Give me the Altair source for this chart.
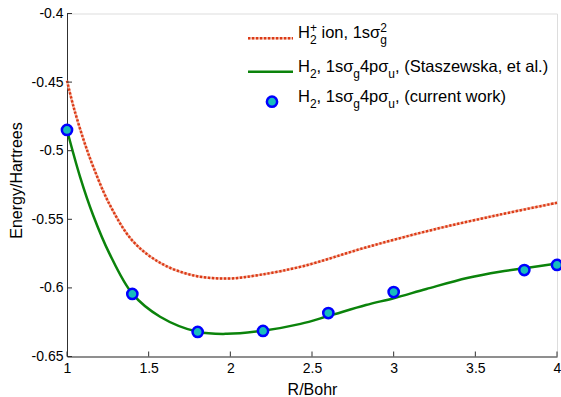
import altair as alt
import pandas as pd

# H2+ ground state (1s sigma_g) potential curve, hartree vs bohr
ion_r = [1.0, 1.04, 1.1, 1.16, 1.26, 1.4, 1.57, 1.77, 1.98, 2.18, 2.45, 2.83, 3.24, 3.65, 4.0]
ion_e = [-0.449, -0.468, -0.4915, -0.5115, -0.539, -0.5655, -0.5817, -0.5908, -0.5932,
         -0.5905, -0.584, -0.5705, -0.5576, -0.5466, -0.538]

# H2 1s sigma_g 4p sigma_u state, Staszewska et al.
ref_r = [1.0, 1.08, 1.16, 1.26, 1.4, 1.57, 1.8, 1.98, 2.2, 2.43, 2.6, 2.83, 3.0, 3.2,
         3.45, 3.65, 3.8, 4.0]
ref_e = [-0.4849, -0.519, -0.547, -0.575, -0.6042, -0.621, -0.632, -0.6335, -0.6312,
         -0.6262, -0.6205, -0.6125, -0.6075, -0.6008, -0.5928, -0.5882, -0.5857, -0.5822]

# H2 1s sigma_g 4p sigma_u state, present calculation
calc_r = [1.0, 1.4, 1.8, 2.2, 2.6, 3.0, 3.8, 4.0]
calc_e = [-0.4849, -0.6044, -0.6321, -0.6314, -0.6183, -0.6030, -0.5870, -0.5833]

x_ticks = [1, 1.5, 2, 2.5, 3, 3.5, 4]
y_ticks = [-0.65, -0.6, -0.55, -0.5, -0.45, -0.4]

# legend rows: ("n", text) normal run, ("ss", subscript, superscript) stacked scripts
legend_rows = [
    [("n", "H"), ("ss", "2", "+"), ("n", " ion, 1sσ"), ("ss", "g", "2")],
    [("n", "H"), ("ss", "2", ""), ("n", ", 1sσ"), ("ss", "g", ""), ("n", "4pσ"),
     ("ss", "u", ""), ("n", ", (Staszewska, et al.)")],
    [("n", "H"), ("ss", "2", ""), ("n", ", 1sσ"), ("ss", "g", ""), ("n", "4pσ"),
     ("ss", "u", ""), ("n", ", (current work)")],
]

FONT = "Liberation Sans"
W, H = 490, 343
RED, GREEN = "#dc3a16", "#0b830b"
FILL, EDGE = "#17bdbd", "#0000ff"
AXIS = "#303030"

xs = alt.Scale(domain=[1, 4], nice=False, zero=False)
ys = alt.Scale(domain=[-0.65, -0.4], nice=False, zero=False)

ion = pd.DataFrame({"r": ion_r, "e": ion_e})
ref = pd.DataFrame({"r": ref_r, "e": ref_e})
calc = pd.DataFrame({"r": calc_r, "e": calc_e})

x_axis = alt.Axis(values=x_ticks, ticks=False, grid=False, domainColor=AXIS,
                  labelExpr="format(datum.value, '~g')", labelFont=FONT,
                  labelFontSize=14, labelColor="black", labelPadding=5,
                  labelFlush=False, labelOverlap=False,
                  title="R/Bohr", titleFont=FONT, titleFontSize=16,
                  titleFontWeight="normal", titleColor="black",
                  titleX=W / 2, titleY=37.5, titleBaseline="alphabetic")
y_axis = alt.Axis(values=y_ticks, ticks=False, grid=False, domainColor=AXIS,
                  labelExpr="(datum.value < 0 ? '-' : '') + format(abs(datum.value), '.2~f')",
                  labelFont=FONT, labelFontSize=14, labelColor="black", labelPadding=4,
                  labelFlush=False, labelOverlap=False,
                  title="Energy/Hartrees", titleFont=FONT, titleFontSize=16,
                  titleFontWeight="normal", titleColor="black",
                  titleX=-45.5, titleY=166.5, titleBaseline="alphabetic")

X = alt.X("r:Q", scale=xs, axis=x_axis)
Y = alt.Y("e:Q", scale=ys, axis=y_axis)

ion_halo = alt.Chart(ion).mark_line(color="#f3b9a8", strokeWidth=2.5,
                                    interpolate="catmull-rom").encode(x=X, y=Y)
ion_line = alt.Chart(ion).mark_line(color=RED, strokeWidth=2.5, strokeDash=[2.2, 1.8],
                                    interpolate="catmull-rom").encode(x=X, y=Y)
ref_line = alt.Chart(ref).mark_line(color=GREEN, strokeWidth=2.5,
                                    interpolate="catmull-rom").encode(x=X, y=Y)
calc_pts = alt.Chart(calc).mark_point(shape="circle", filled=True, fill=FILL, stroke=EDGE,
                                      strokeWidth=2.5, size=105, opacity=1,
                                      clip=False).encode(x=X, y=Y)

# inward tick marks on the two axes
x_tick_marks = alt.Chart(pd.DataFrame({"r": x_ticks})).mark_rule(color=AXIS, strokeWidth=1).encode(
    x=X, y=alt.value(H), y2=alt.value(H - 5))
y_tick_marks = alt.Chart(pd.DataFrame({"e": y_ticks})).mark_rule(color=AXIS, strokeWidth=1).encode(
    y=Y, x=alt.value(0), x2=alt.value(5))

# legend with hand-set sub/superscripts
ADV = {' ': 278, '(': 333, ')': 333, '+': 584, ',': 278, '.': 278, '1': 556, '2': 556,
       '4': 556, 'H': 722, 'S': 667, 'a': 556, 'c': 500, 'e': 556, 'g': 556, 'i': 222,
       'k': 500, 'l': 222, 'm': 833, 'n': 556, 'o': 556, 'p': 556, 'r': 333, 's': 500,
       't': 278, 'u': 556, 'w': 722, 'z': 500, 'σ': 610}


def width(s, size):
    return sum(ADV.get(ch, 556) for ch in s) * size / 1000.0


MAIN, SCRIPT = 16.5, 12
TEXT_X = 231
ROW_Y = [24.5, 58.0, 88.0]


def text_layer(s, x, y, size):
    return alt.Chart(alt.Data(values=[{}])).mark_text(
        text=s, font=FONT, fontSize=size, color="black", align="left",
        baseline="alphabetic").encode(x=alt.value(x), y=alt.value(y))


legend_layers = []
for row, y0 in zip(legend_rows, ROW_Y):
    cx = TEXT_X
    for item in row:
        if item[0] == "n":
            s = item[1]
            lead = len(s) - len(s.lstrip(" "))
            cx += width(" " * lead, MAIN)
            s = s.lstrip(" ")
            legend_layers.append(text_layer(s, cx, y0, MAIN))
            cx += width(s, MAIN)
        else:
            sub, sup = item[1], item[2]
            if sub:
                legend_layers.append(text_layer(sub, cx, y0 + 6, SCRIPT))
            if sup:
                legend_layers.append(text_layer(sup, cx, y0 - 6.5, SCRIPT))
            cx += max(width(sub, SCRIPT), width(sup, SCRIPT))

blank = alt.Chart(alt.Data(values=[{}]))
leg_ion_halo = blank.mark_rule(color="#f3b9a8", strokeWidth=2.5).encode(
    x=alt.value(181), x2=alt.value(226), y=alt.value(24.8))
leg_ion = blank.mark_rule(color=RED, strokeWidth=2.5, strokeDash=[2.2, 1.8]).encode(
    x=alt.value(181), x2=alt.value(226), y=alt.value(24.8))
leg_ref = blank.mark_rule(color=GREEN, strokeWidth=2.5).encode(
    x=alt.value(181), x2=alt.value(226), y=alt.value(58.2))
leg_calc = blank.mark_point(shape="circle", filled=True, fill=FILL, stroke=EDGE,
                            strokeWidth=2.5, size=105, opacity=1).encode(
    x=alt.value(205), y=alt.value(88.2))

chart = alt.layer(
    ion_halo, ion_line, ref_line, x_tick_marks, y_tick_marks, calc_pts,
    leg_ion_halo, leg_ion, leg_ref, leg_calc, *legend_layers
).properties(
    width=W, height=H, autosize="none",
    padding={"left": 67, "top": 13.5, "right": 4, "bottom": 40.5},
).configure_view(stroke=None).configure(background="white")

chart.save("out.html", embed_options={"renderer": "svg", "actions": False})
